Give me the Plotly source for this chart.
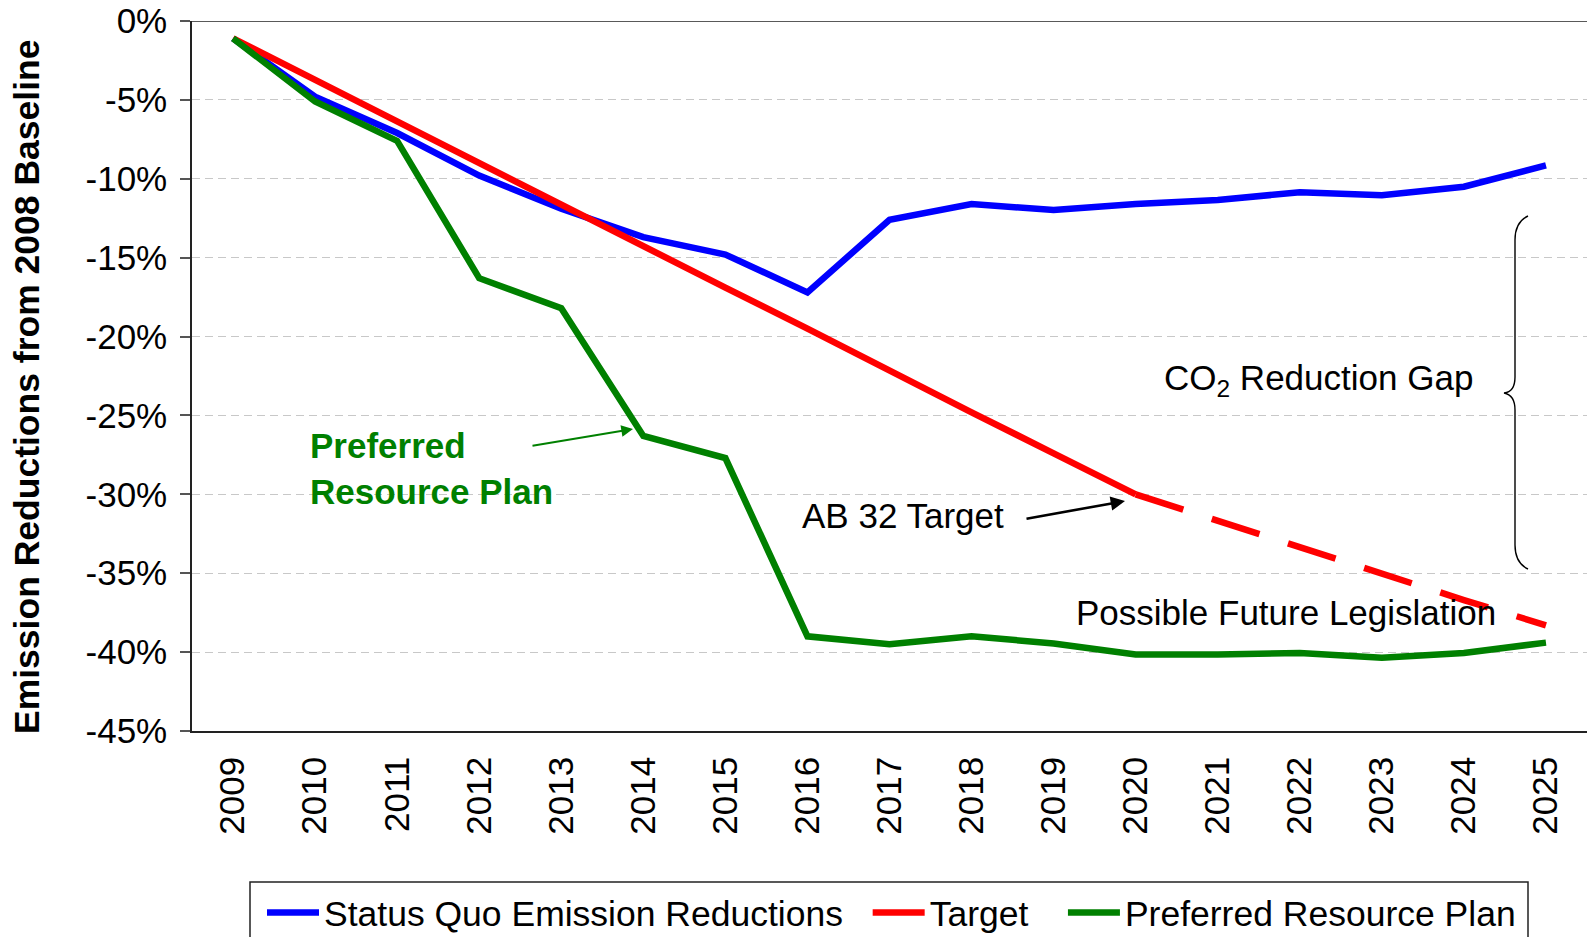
import plotly.graph_objects as go

years = list(range(2009, 2026))
status_quo = [-1.1, -4.8, -7.1, -9.8, -11.9, -13.7, -14.8, -17.2, -12.6, -11.6,
              -11.98, -11.6, -11.35, -10.85, -11.05, -10.5, -9.15]
target = [-1.1, -3.75, -6.4, -9.0, -11.7, -14.3, -16.9, -19.5, -22.2, -24.8,
          -27.4, -30.0, -31.7, -33.4, -35.05, -36.7, -38.3]
preferred = [-1.1, -5.1, -7.6, -16.3, -18.2, -26.3, -27.7, -39.0, -39.5, -39.0,
             -39.45, -40.15, -40.15, -40.05, -40.35, -40.05, -39.4]
ytick_vals = [0, -5, -10, -15, -20, -25, -30, -35, -40, -45]
ytick_text = ["0%", "-5%", "-10%", "-15%", "-20%", "-25%", "-30%", "-35%", "-40%", "-45%"]
split_year = 2020

FONT = "Arial, Liberation Sans, sans-serif"
BLUE, RED, GREEN = "#0000FF", "#FF0000", "#008000"
NB = "\u00a0"

k = years.index(split_year)

fig = go.Figure()
fig.add_trace(go.Scatter(x=years, y=status_quo, mode="lines",
                         name="Status Quo Emission Reductions" + NB * 2,
                         line=dict(color=BLUE, width=6.5)))
fig.add_trace(go.Scatter(x=years[:k + 1], y=target[:k + 1], mode="lines", name="Target" + NB * 3,
                         line=dict(color=RED, width=6.5)))
fig.add_trace(go.Scatter(x=years[k:], y=target[k:], mode="lines", name="Target (future)",
                         showlegend=False, line=dict(color=RED, width=6.5, dash="50px,30px")))
fig.add_trace(go.Scatter(x=years, y=preferred, mode="lines", name="Preferred Resource Plan",
                         line=dict(color=GREEN, width=6.5)))

# helpers for decorations (pixel -> data)
L, T, PW, PH = 192, 21, 1395, 710
B = T + PH
def dx(px):
    return 2008.5 + (px - L) / (PW / 17.0)
def dy(py):
    return -(py - T) / (PH / 45.0)
def px_x(px):
    return (px - L) / PW
def px_y(py):
    return (B - py) / PH

annotations = [
    dict(text="<b>Preferred<br>Resource Plan</b>", x=dx(308), y=dy(468), xref="x", yref="y",
         xanchor="left", yanchor="middle", align="left", showarrow=False,
         font=dict(family=FONT, size=35, color=GREEN)),
    dict(text="", x=dx(633), y=dy(429), ax=dx(531), ay=dy(446), xref="x", yref="y",
         axref="x", ayref="y", showarrow=True, arrowhead=2, arrowsize=1.3, arrowwidth=1.8,
         arrowcolor=GREEN),
    dict(text="AB 32 Target", x=dx(800), y=dy(515), xref="x", yref="y",
         xanchor="left", yanchor="middle", showarrow=False,
         font=dict(family=FONT, size=35, color="black")),
    dict(text="", x=dx(1125), y=dy(501), ax=dx(1025), ay=dy(519), xref="x", yref="y",
         axref="x", ayref="y", showarrow=True, arrowhead=2, arrowsize=1.1, arrowwidth=2.6,
         arrowcolor="black"),
    dict(text="CO<sub>2</sub> Reduction Gap", x=dx(1162), y=dy(380), xref="x", yref="y",
         xanchor="left", yanchor="middle", showarrow=False,
         font=dict(family=FONT, size=35, color="black")),
    dict(text="Possible Future Legislation", x=dx(1074), y=dy(612), xref="x", yref="y",
         xanchor="left", yanchor="middle", showarrow=False,
         font=dict(family=FONT, size=35, color="black")),
    dict(text="<b>Emission Reductions from 2008 Baseline</b>", x=px_x(27), y=px_y(387),
         xref="paper", yref="paper", xanchor="center", yanchor="middle", textangle=-90,
         showarrow=False, font=dict(family=FONT, size=35.5, color="black")),
]

brace = (f"M {dx(1528)},{dy(216)} Q {dx(1515)},{dy(222)} {dx(1515)},{dy(240)} "
         f"L {dx(1515)},{dy(377)} Q {dx(1515)},{dy(392)} {dx(1504)},{dy(393)} "
         f"Q {dx(1515)},{dy(395)} {dx(1515)},{dy(410)} "
         f"L {dx(1515)},{dy(545)} Q {dx(1515)},{dy(563)} {dx(1528)},{dy(569)}")

shapes = [
    dict(type="path", path=brace, xref="x", yref="y", line=dict(color="black", width=1.4)),
    dict(type="line", xref="paper", yref="y", x0=0, x1=1, y0=0, y1=0,
         line=dict(color="#222222", width=1.5)),
    # legend frame
    dict(type="rect", xref="paper", yref="paper", x0=px_x(250), x1=px_x(1528),
         y0=px_y(882), y1=px_y(960), line=dict(color="#222222", width=1.5),
         fillcolor="rgba(0,0,0,0)", layer="above"),
]

fig.update_layout(
    width=1587, height=937,
    margin=dict(l=L, r=0, t=T, b=937 - B, autoexpand=False),
    paper_bgcolor="white", plot_bgcolor="white",
    font=dict(family=FONT, size=35, color="black"),
    showlegend=True,
    legend=dict(orientation="h", x=px_x(262), xanchor="left", y=px_y(883), yanchor="top",
                borderwidth=0, bgcolor="rgba(0,0,0,0)",
                font=dict(family=FONT, size=35.5, color="black"),
                itemwidth=52, traceorder="normal"),
    annotations=annotations,
    shapes=shapes,
)
fig.update_xaxes(range=[2008.5, 2025.5], tickvals=years, ticktext=[str(y) for y in years],
                 tickangle=-90, showgrid=False, showline=True, linecolor="#222222", linewidth=1.5,
                 ticks="", ticklabelstandoff=10, tickfont=dict(family=FONT, size=35, color="black"),
                 zeroline=False, automargin=False)
fig.update_yaxes(range=[-45, 0], tickvals=ytick_vals, ticktext=ytick_text,
                 showgrid=True, gridcolor="#c8c8c8", gridwidth=1, griddash="8px,5px",
                 showline=True, linecolor="#222222", linewidth=1.5,
                 ticks="outside", ticklen=10, tickcolor="#555555", tickwidth=1.5,
                 ticklabelstandoff=6, tickfont=dict(family=FONT, size=35, color="black"),
                 zeroline=False, automargin=False)

fig.write_html("out.html", config={"displayModeBar": False},
               post_script="document.body.style.margin='0px';document.body.style.overflow='hidden';")
